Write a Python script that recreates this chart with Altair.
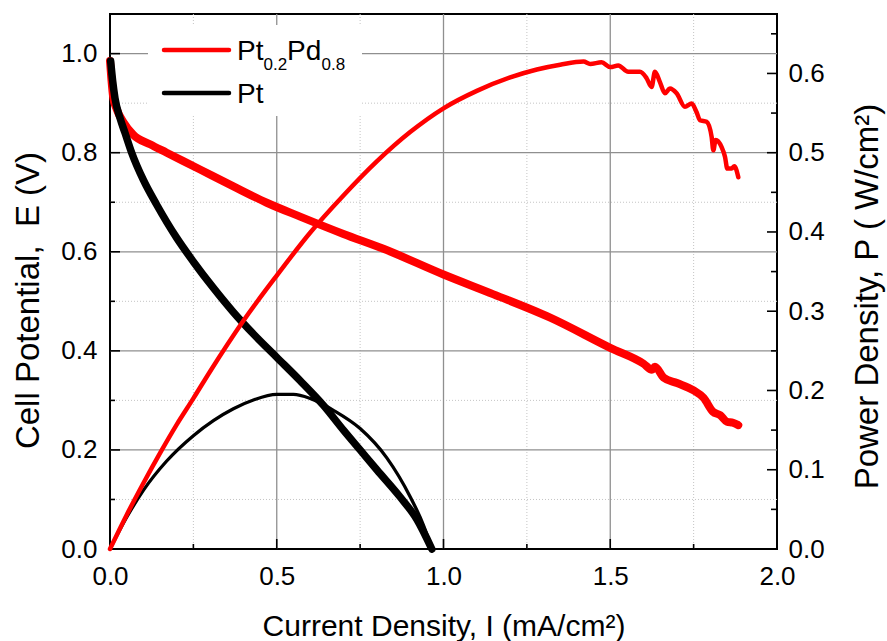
import altair as alt
import pandas as pd

# ---------------- data ----------------
# Pt0.2Pd0.8 : cell potential E (V) vs current density I
red_E_I = [0.0, 0.004, 0.01, 0.02, 0.04, 0.07, 0.12, 0.17, 0.27, 0.37, 0.47, 0.57, 0.70, 0.82,
           1.00, 1.15, 1.32, 1.50, 1.60, 1.625, 1.634, 1.66, 1.70, 1.75, 1.78, 1.808, 1.83,
           1.85, 1.868, 1.884]
red_E = [0.985, 0.95, 0.91, 0.888, 0.862, 0.836, 0.817, 0.800, 0.766, 0.732, 0.699, 0.671, 0.636,
         0.606, 0.554, 0.514, 0.467, 0.406, 0.374, 0.362, 0.368, 0.346, 0.335, 0.320, 0.305,
         0.277, 0.27, 0.257, 0.255, 0.250]

# Pt : cell potential
blk_E_I = [0.002, 0.008, 0.015, 0.03, 0.045, 0.065, 0.1, 0.14, 0.2, 0.25, 0.31, 0.37, 0.43, 0.5,
           0.57, 0.64, 0.7, 0.75, 0.8, 0.87, 0.92, 0.965]
blk_E = [0.985, 0.945, 0.91, 0.87, 0.84, 0.80, 0.745, 0.695, 0.628, 0.58, 0.527, 0.478, 0.434,
         0.387, 0.340, 0.29, 0.24, 0.20, 0.16, 0.105, 0.06, 0.0]

# Pt0.2Pd0.8 : power density P (W/cm2)
red_P_I = [0.0, 0.05, 0.1, 0.15, 0.2, 0.25, 0.3, 0.4, 0.5, 0.6, 0.7, 0.8, 0.9, 1.0, 1.1, 1.2,
           1.28, 1.35, 1.42, 1.44, 1.474, 1.5, 1.524, 1.554, 1.589, 1.609, 1.624, 1.634, 1.649,
           1.664, 1.679, 1.699, 1.724, 1.744, 1.759, 1.769, 1.789, 1.804, 1.809, 1.816, 1.834,
           1.844, 1.851, 1.864, 1.872, 1.884]
red_P = [0.0, 0.043, 0.083, 0.121, 0.157, 0.190, 0.224, 0.288, 0.345, 0.399, 0.446, 0.489, 0.526,
         0.556, 0.578, 0.595, 0.605, 0.611, 0.615, 0.612, 0.614, 0.608, 0.610, 0.602, 0.602,
         0.594, 0.583, 0.602, 0.589, 0.575, 0.581, 0.575, 0.558, 0.562, 0.551, 0.541, 0.539,
         0.520, 0.503, 0.516, 0.507, 0.495, 0.480, 0.480, 0.483, 0.469]

# Pt : power density
blk_P_I = [0.0, 0.05, 0.1, 0.17, 0.25, 0.31, 0.37, 0.43, 0.5, 0.55, 0.6, 0.67, 0.75, 0.83, 0.9,
           0.94, 0.965]
blk_P = [0.0, 0.040, 0.074, 0.111, 0.143, 0.162, 0.177, 0.188, 0.195, 0.195, 0.19, 0.175, 0.152,
         0.115, 0.066, 0.030, 0.0]

x_major = [0.0, 0.5, 1.0, 1.5, 2.0]
x_minor = [0.25, 0.75, 1.25, 1.75]
e_major = [0.0, 0.2, 0.4, 0.6, 0.8, 1.0]
e_minor = [0.1, 0.3, 0.5, 0.7, 0.9]
p_major = [0.0, 0.1, 0.2, 0.3, 0.4, 0.5, 0.6]
p_minor = [0.05, 0.15, 0.25, 0.35, 0.45, 0.55, 0.65]

leg_main = ["Pt", "Pd"]
leg_sub = ["0.2", "0.8"]
leg_pt = ["Pt"]

x_title = "Current Density, I (mA/cm²)"
e_title = "Cell Potential,\u00a0 E (V)"
p_title = "Power Density, P ( W/cm²)"

# ---------------- styling ----------------
W, H = 667, 535
FONT = "Liberation Sans"
RED = "#ff0000"
BLACK = "#000000"
GRID = "#8f8f8f"
GRID_MINOR = "#c4c4c4"

xs = alt.Scale(domain=[0, 2.0], nice=False)
es = alt.Scale(domain=[0, 1.08], nice=False)
ps = alt.Scale(domain=[0, 0.675], nice=False)

common_axis = dict(ticks=False, tickSize=0, domain=False, grid=False, format=".1f",
                   labelFlush=False, labelOverlap=False,
                   labelFont=FONT, labelFontSize=26, labelColor=BLACK,
                   titleFont=FONT, titleFontWeight="normal", titleColor=BLACK)

x_axis = alt.Axis(values=x_major, title=x_title, labelPadding=14, titleFontSize=30,
                  titleX=W / 2, titleY=86, titleAlign="center", titleBaseline="alphabetic",
                  **common_axis)
e_axis = alt.Axis(values=e_major, title=e_title, orient="left", labelPadding=13,
                  titleFontSize=33,
                  titleAngle=270, titleX=-72, titleY=286, titleAlign="center",
                  titleBaseline="alphabetic", **common_axis)
p_axis = alt.Axis(values=p_major, title=p_title, orient="right", labelPadding=11,
                  titleFontSize=33,
                  titleAngle=270, titleX=100, titleY=282, titleAlign="center",
                  titleBaseline="alphabetic", **common_axis)


def X(f):
    return alt.X(f, scale=xs, axis=x_axis)


def YE(f):
    return alt.Y(f, scale=es, axis=e_axis)


def YP(f):
    return alt.Y(f, scale=ps, axis=p_axis)


def vals(lst):
    return pd.DataFrame({"v": lst})


# ---- grid (based on left axis and x axis) ----
grid_vx = alt.Chart(vals(x_major[1:-1])).mark_rule(color=GRID, strokeWidth=1.3).encode(x=X("v:Q"))
grid_vx_minor = alt.Chart(vals(x_minor)).mark_rule(
    color=GRID_MINOR, strokeWidth=1, strokeDash=[1, 2]).encode(x=X("v:Q"))
grid_he = alt.Chart(vals(e_major[1:])).mark_rule(color=GRID, strokeWidth=1.3).encode(y=YE("v:Q"))
grid_he_minor = alt.Chart(vals(e_minor)).mark_rule(
    color=GRID_MINOR, strokeWidth=1, strokeDash=[1, 2]).encode(y=YE("v:Q"))

# legend background box
leg_box = alt.Chart(vals([0])).mark_rect(color="white").encode(
    x=alt.value(38), x2=alt.value(252), y=alt.value(11), y2=alt.value(102))

# ---- inward ticks ----
tick_style = dict(color=BLACK, strokeWidth=1.6)
tx_major = alt.Chart(vals(x_major)).mark_rule(**tick_style).encode(
    x=X("v:Q"), y=alt.value(H), y2=alt.value(H - 10))
tx_minor = alt.Chart(vals(x_minor)).mark_rule(**tick_style).encode(
    x=X("v:Q"), y=alt.value(H), y2=alt.value(H - 5))
te_major = alt.Chart(vals(e_major)).mark_rule(**tick_style).encode(
    y=YE("v:Q"), x=alt.value(0), x2=alt.value(10))
te_minor = alt.Chart(vals(e_minor)).mark_rule(**tick_style).encode(
    y=YE("v:Q"), x=alt.value(0), x2=alt.value(5))
tp_major = alt.Chart(vals(p_major)).mark_rule(**tick_style).encode(
    y=YP("v:Q"), x=alt.value(W), x2=alt.value(W - 10))
tp_minor = alt.Chart(vals(p_minor)).mark_rule(**tick_style).encode(
    y=YP("v:Q"), x=alt.value(W), x2=alt.value(W - 6))

# ---- curves ----
red_E_df = pd.DataFrame({"I": red_E_I, "E": red_E})
blk_E_df = pd.DataFrame({"I": blk_E_I, "E": blk_E})
red_P_df = pd.DataFrame({"I": red_P_I, "P": red_P})
blk_P_df = pd.DataFrame({"I": blk_P_I, "P": blk_P})

lk = dict(strokeCap="round", strokeJoin="round", interpolate="monotone")
line_red_E = alt.Chart(red_E_df).mark_line(color=RED, strokeWidth=8, **lk).encode(
    x=X("I:Q"), y=YE("E:Q"), order="I:Q")
line_blk_E = alt.Chart(blk_E_df).mark_line(color=BLACK, strokeWidth=7.5, **lk).encode(
    x=X("I:Q"), y=YE("E:Q"), order="I:Q")
line_blk_P = alt.Chart(blk_P_df).mark_line(color=BLACK, strokeWidth=3.3, **lk).encode(
    x=X("I:Q"), y=YP("P:Q"), order="I:Q")
line_red_P = alt.Chart(red_P_df).mark_line(color=RED, strokeWidth=4.5, **lk).encode(
    x=X("I:Q"), y=YP("P:Q"), order="I:Q")

# ---- legend ----
leg_line_red = alt.Chart(vals([0])).mark_rule(color=RED, strokeWidth=4.5, strokeCap="round").encode(
    x=alt.value(54), x2=alt.value(119), y=alt.value(36))
leg_line_blk = alt.Chart(vals([0])).mark_rule(color=BLACK, strokeWidth=4.5, strokeCap="round").encode(
    x=alt.value(54), x2=alt.value(119), y=alt.value(79))

txt = dict(font=FONT, align="left", baseline="alphabetic", color=BLACK)
leg_t1 = alt.Chart(pd.DataFrame({"t": [leg_main[0]]})).mark_text(fontSize=28, **txt).encode(
    x=alt.value(127), y=alt.value(46), text="t:N")
leg_s1 = alt.Chart(pd.DataFrame({"t": [leg_sub[0]]})).mark_text(fontSize=17, **txt).encode(
    x=alt.value(153.5), y=alt.value(56), text="t:N")
leg_t2 = alt.Chart(pd.DataFrame({"t": [leg_main[1]]})).mark_text(fontSize=28, **txt).encode(
    x=alt.value(177), y=alt.value(46), text="t:N")
leg_s2 = alt.Chart(pd.DataFrame({"t": [leg_sub[1]]})).mark_text(fontSize=17, **txt).encode(
    x=alt.value(211.5), y=alt.value(56), text="t:N")
leg_t3 = alt.Chart(pd.DataFrame({"t": leg_pt})).mark_text(fontSize=28, **txt).encode(
    x=alt.value(127), y=alt.value(89), text="t:N")

left = alt.layer(grid_vx_minor, grid_he_minor, grid_vx, grid_he, leg_box,
                 tx_major, tx_minor, te_major, te_minor,
                 line_red_E, line_blk_E)
right = alt.layer(tp_major, tp_minor, line_blk_P, line_red_P,
                  leg_line_red, leg_line_blk, leg_t1, leg_s1, leg_t2, leg_s2, leg_t3)

chart = alt.layer(left, right).resolve_scale(y="independent").properties(
    width=W, height=H,
    autosize=alt.AutoSizeParams(type="none"),
    padding={"left": 110, "top": 14, "right": 110, "bottom": 92},
    background="white",
).configure_view(stroke=BLACK, strokeWidth=2)

chart.save("out.html", embed_options={"renderer": "svg", "actions": False})
